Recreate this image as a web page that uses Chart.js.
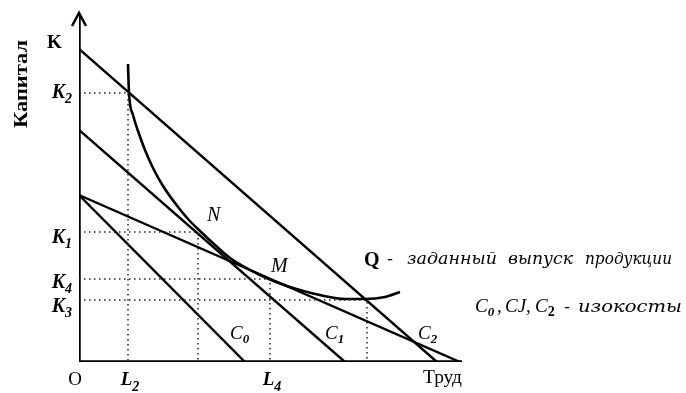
<!DOCTYPE html>
<html>
<head>
<meta charset="utf-8">
<script src="https://cdn.jsdelivr.net/npm/chart.js@4.4.1/dist/chart.umd.min.js"></script>
<style>
    html, body { margin: 0; padding: 0; background: #fff; }
</style>
</head>
<body>
<canvas id="isoChart" width="686" height="393"></canvas>
<script>
"use strict";

// Условные единицы: x — труд, y — капитал
const isocostC2 = [{ x: 0, y: 313 }, { x: 358, y: 0 }];
const isocostC1 = [{ x: 0, y: 232 }, { x: 266, y: 0 }];
const isocostC0 = [{ x: 0, y: 167 }, { x: 166, y: 0 }];
const isocostFlat = [{ x: 0, y: 167 }, { x: 381, y: 0 }];

// Изокванта Q
const isoquantQ = [
    { x: 49, y: 298 }, { x: 50, y: 269 }, { x: 54, y: 247 }, { x: 59, y: 231 },
    { x: 66, y: 212 }, { x: 74, y: 194 }, { x: 84, y: 176 }, { x: 96, y: 159 },
    { x: 109, y: 143 }, { x: 121, y: 131 }, { x: 136, y: 117 }, { x: 151, y: 104 },
    { x: 181, y: 87 }, { x: 211, y: 75 }, { x: 241, y: 67 }, { x: 266, y: 63 },
    { x: 286, y: 63 }, { x: 306, y: 65 }, { x: 321, y: 70 }
];

// Уровни капитала и соответствующие точки по труду (пунктир)
const kSubs = ['2', '1', '4', '3'];
const kValues = [269, 130, 83, 62];
const lValues = [49, 119, 191, 288];
const lSubs = ['2', null, '4', null];

const axisMax = { x: 391, y: 347 };
const xAxisEnd = 383;

// Подписи изокост: [индекс, x, y]
const costLabels = [['0', 151, 23], ['1', 246, 23], ['2', 339, 23]];

// мелкая подгонка подписей K по вертикали, px
const kNudge = [-4, 2, 0, 3];

const solid = (data, width) => ({
    data: data,
    showLine: true,
    borderColor: '#000',
    borderWidth: width,
    pointRadius: 0,
    fill: false,
    tension: 0
});

const guides = kValues.map((k, i) => ({
    data: [{ x: 0, y: k }, { x: lValues[i], y: k }, { x: lValues[i], y: 0 }],
    showLine: true,
    borderColor: '#222',
    borderWidth: 1.5,
    borderDash: [1.5, 3.5],
    pointRadius: 0,
    fill: false,
    tension: 0
}));

const quant = solid(isoquantQ, 2.6);
quant.cubicInterpolationMode = 'monotone';

// Хелпер: текст с подстрочным индексом, x — опорная точка, y — базовая линия
function subText(ctx, main, sub, x, y, font, subFont, align, drop) {
    ctx.font = font;
    const w1 = ctx.measureText(main).width;
    ctx.font = subFont;
    const w2 = sub ? ctx.measureText(sub).width : 0;
    let left = x;
    if (align === 'right') left = x - w1 - w2;
    if (align === 'center') left = x - (w1 + w2) / 2;
    ctx.font = font;
    ctx.textAlign = 'left';
    ctx.fillText(main, left, y);
    if (sub) {
        ctx.font = subFont;
        ctx.fillText(sub, left + w1, y + (drop || 5));
    }
}

// Хелпер: растянуть строку на заданную ширину
function fitText(ctx, text, x, y, width, font) {
    ctx.font = font;
    const w = ctx.measureText(text).width;
    ctx.save();
    ctx.translate(x, y);
    ctx.scale(width / w, 1);
    ctx.textAlign = 'left';
    ctx.fillText(text, 0, 0);
    ctx.restore();
}

const annotations = {
    id: 'annotations',
    afterDatasetsDraw(chart) {
        const ctx = chart.ctx;
        const xs = chart.scales.x, ys = chart.scales.y;
        const x0 = xs.getPixelForValue(0), y0 = ys.getPixelForValue(0);
        const yTop = ys.getPixelForValue(axisMax.y);
        const serif = "'Liberation Serif', 'DejaVu Serif', serif";
        const dvs = "'DejaVu Serif', serif";
        ctx.save();
        ctx.fillStyle = '#000';
        ctx.strokeStyle = '#000';

        // стрелка оси капитала
        ctx.lineWidth = 2.5;
        ctx.beginPath();
        ctx.moveTo(x0 - 7, yTop + 11);
        ctx.lineTo(x0, yTop - 2);
        ctx.lineTo(x0 + 7, yTop + 11);
        ctx.stroke();

        ctx.textBaseline = 'alphabetic';

        // название оси
        ctx.save();
        ctx.translate(27, 84);
        ctx.rotate(-Math.PI / 2);
        fitText(ctx, 'Капитал', -44, 0, 88, 'bold 19px ' + serif);
        ctx.restore();

        ctx.font = 'bold 19px ' + serif;
        ctx.textAlign = 'left';
        ctx.fillText('K', 47, 48);

        kValues.forEach((k, i) => {
            subText(ctx, 'K', kSubs[i], x0 - 7, ys.getPixelForValue(k) + 9 + kNudge[i],
                'bold italic 20px ' + serif, 'bold italic 14px ' + serif, 'right', 5);
        });
        lValues.forEach((l, i) => {
            if (!lSubs[i]) return;
            subText(ctx, 'L', lSubs[i], xs.getPixelForValue(l) + 2, y0 + 23,
                'bold italic 19px ' + serif, 'bold italic 14px ' + serif, 'center', 6);
        });

        ctx.font = '19px ' + serif;
        ctx.textAlign = 'center';
        ctx.fillText('O', x0 - 4, y0 + 23);
        ctx.textAlign = 'left';
        fitText(ctx, 'Труд', 423, y0 + 21, 39, '18px ' + serif);

        ctx.font = 'italic 20px ' + serif;
        ctx.fillText('N', 207, 221);
        ctx.fillText('M', 271, 272);

        costLabels.forEach(([s, x, y]) => {
            subText(ctx, 'C', s, xs.getPixelForValue(x), ys.getPixelForValue(y),
                'italic 19px ' + serif, 'bold italic 13px ' + serif, 'left', 4);
        });

        // пояснения
        ctx.font = 'bold 20px ' + serif;
        ctx.fillText('Q', 364, 266);
        fitText(ctx, '-', 387, 264, 6, 'italic 16px ' + dvs);
        fitText(ctx, 'заданный', 407, 264, 90, 'italic 17px ' + dvs);
        fitText(ctx, 'выпуск', 508, 264, 65, 'italic 17px ' + dvs);
        fitText(ctx, 'продукции', 585, 264, 87, 'italic 17px ' + dvs);

        subText(ctx, 'C', '0', 475, 312, 'italic 19px ' + serif, 'bold italic 13px ' + serif, 'left', 4);
        ctx.font = 'italic 19px ' + serif;
        ctx.fillText(',', 497, 312);
        ctx.fillText('CJ,', 505, 312);
        subText(ctx, 'C', '2', 535, 312, 'italic 19px ' + serif, 'bold 14px ' + serif, 'left', 4);
        fitText(ctx, '-', 564, 312, 6, 'italic 16px ' + dvs);
        fitText(ctx, 'изокосты', 578, 312, 104, 'italic 17px ' + dvs);

        ctx.restore();
    }
};

new Chart(document.getElementById('isoChart'), {
    type: 'scatter',
    data: {
        datasets: [
            ...guides,
            solid(isocostC2, 2.4),
            solid(isocostC1, 2.4),
            solid(isocostC0, 2.4),
            solid(isocostFlat, 2.4),
            quant,
            solid([{ x: 0, y: 0 }, { x: 0, y: axisMax.y }], 3.5),
            solid([{ x: 0, y: 0 }, { x: xAxisEnd, y: 0 }], 3.5)
        ]
    },
    options: {
        responsive: false,
        animation: false,
        devicePixelRatio: 1,
        layout: { padding: { left: 79, right: 216, top: 15, bottom: 31 } },
        scales: {
            x: { type: 'linear', min: 0, max: axisMax.x, display: false },
            y: { type: 'linear', min: 0, max: axisMax.y, display: false }
        },
        plugins: {
            legend: { display: false },
            tooltip: { enabled: false }
        }
    },
    plugins: [annotations]
});
</script>
</body>
</html>
